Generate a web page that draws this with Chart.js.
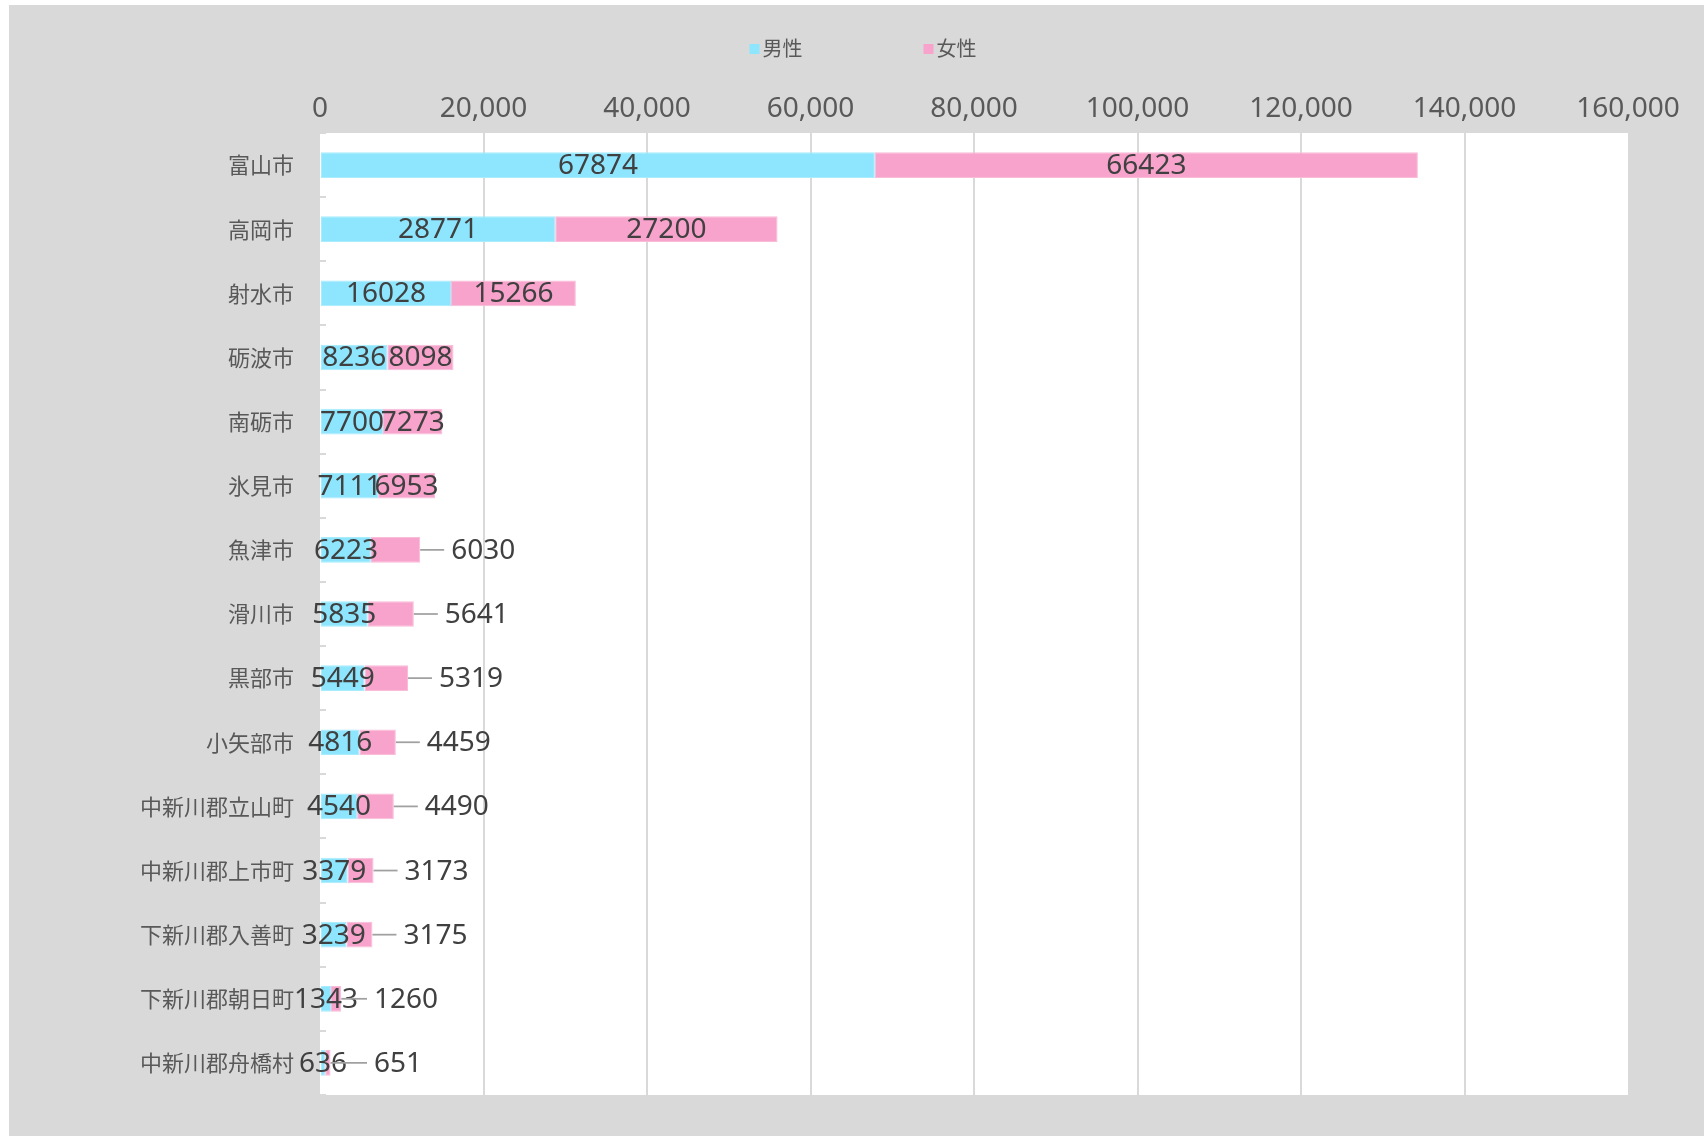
<!DOCTYPE html>
<html>
<head>
<meta charset="utf-8">
<script src="https://cdn.jsdelivr.net/npm/chart.js@4/dist/chart.umd.min.js"></script>
<style>
    html, body { margin: 0; padding: 0; background: #ffffff; }
    #wrap { position: absolute; left: 9px; top: 5px; width: 1695px; height: 1131px; background: #d9d9d9; }
</style>
</head>
<body>
<div id="wrap"><canvas id="grafico"></canvas></div>
<script>
// ---------------- Dados ----------------
const municipios = ['富山市','高岡市','射水市','砺波市','南砺市','氷見市','魚津市','滑川市','黒部市','小矢部市',
                    '中新川郡立山町','中新川郡上市町','下新川郡入善町','下新川郡朝日町','中新川郡舟橋村'];
const masculino = [67874, 28771, 16028, 8236, 7700, 7111, 6223, 5835, 5449, 4816, 4540, 3379, 3239, 1343, 636];
const feminino  = [66423, 27200, 15266, 8098, 7273, 6953, 6030, 5641, 5319, 4459, 4490, 3173, 3175, 1260, 651];
const nomesSeries = ['男性', '女性'];
const eixoMax = 160000;
const eixoPasso = 20000;

const corMasc = '#8de6fd';
const corFem = '#f7a3cc';
const fonteNum = '"Noto Sans", "DejaVu Sans", sans-serif';
const fonteJp = '"Noto Sans CJK JP", "Noto Sans", sans-serif';
const limiteDentro = 6500;   // rótulos femininos menores ficam fora da barra

// ---------------- Plugin: fundo, marcas, legenda, rótulos ----------------
const desenhoExtra = {
    id: 'desenhoExtra',
    beforeDraw(chart) {
        const {ctx, chartArea: a} = chart;
        ctx.save();
        ctx.fillStyle = '#ffffff';
        ctx.fillRect(a.left, a.top, a.right - a.left, a.bottom - a.top);
        ctx.restore();
    },
    afterDraw(chart) {
        const {ctx, chartArea: a, scales} = chart;
        ctx.save();

        // marcas do eixo das categorias
        ctx.strokeStyle = '#d9d9d9';
        ctx.lineWidth = 2;
        for (let i = 0; i <= municipios.length; i++) {
            const y = Math.round(scales.y.getPixelForValue(i - 0.5));
            ctx.beginPath();
            ctx.moveTo(a.left, y);
            ctx.lineTo(a.left + 6, y);
            ctx.stroke();
        }

        // legenda
        ctx.font = '20px ' + fonteJp;
        ctx.textBaseline = 'middle';
        ctx.textAlign = 'left';
        const cx = chart.width / 2 + 6;
        const posLeg = [cx - 113, cx + 61];
        chart.data.datasets.forEach((ds, i) => {
            ctx.fillStyle = ds.backgroundColor;
            ctx.fillRect(posLeg[i], 39, 10, 10);
            ctx.fillStyle = '#595959';
            ctx.fillText(ds.label, posLeg[i] + 13, 43);
        });

        // rótulos de dados
        ctx.font = '28px ' + fonteNum;
        ctx.textBaseline = 'middle';
        chart.data.datasets.forEach((ds, d) => {
            const meta = chart.getDatasetMeta(d);
            meta.data.forEach((el, i) => {
                const v = ds.data[i];
                const ini = Math.min(el.x, el.base), fim = Math.max(el.x, el.base);
                if (d === 1 && v < limiteDentro) {
                    const xt = Math.max(fim + 31, a.left + 54);
                    ctx.strokeStyle = '#a0a0a0';
                    ctx.lineWidth = 1.75;
                    ctx.beginPath();
                    ctx.moveTo(fim, el.y);
                    ctx.lineTo(xt - 7, el.y);
                    ctx.stroke();
                    ctx.fillStyle = '#404040';
                    ctx.textAlign = 'left';
                    ctx.fillText(String(v), xt, el.y + 1);
                } else {
                    ctx.fillStyle = '#404040';
                    ctx.textAlign = 'center';
                    ctx.fillText(String(v), (ini + fim) / 2, el.y + 1);
                }
            });
        });
        ctx.restore();
    }
};

// ---------------- Gráfico ----------------
new Chart(document.getElementById('grafico'), {
    type: 'bar',
    data: {
        labels: municipios,
        datasets: [
            { label: nomesSeries[0], data: masculino, backgroundColor: corMasc, borderColor: '#a9ecfd', borderWidth: 1, borderSkipped: false },
            { label: nomesSeries[1], data: feminino, backgroundColor: corFem, borderColor: '#f9bcd9', borderWidth: 1, borderSkipped: false }
        ]
    },
    plugins: [desenhoExtra],
    options: {
        indexAxis: 'y',
        locale: 'en-US',
        responsive: true,
        maintainAspectRatio: false,
        animation: false,
        layout: { padding: { top: 60, right: 76, bottom: 41, left: 0 } },
        datasets: { bar: { categoryPercentage: 1, barPercentage: 0.4 } },
        scales: {
            x: {
                position: 'top', stacked: true, min: 0, max: eixoMax,
                ticks: { stepSize: eixoPasso, color: '#595959', padding: 7, font: { family: fonteNum, size: 28 } },
                grid: {
                    drawTicks: false, lineWidth: 2,
                    color: c => (c.tick && (c.tick.value === 0 || c.tick.value === eixoMax)) ? 'rgba(0,0,0,0)' : '#d9d9d9'
                },
                border: { display: false },
                afterFit: s => { s.height = 68; }
            },
            y: {
                stacked: true,
                ticks: { color: '#595959', padding: 18, font: { family: fonteJp, size: 22 } },
                grid: { display: false },
                border: { display: false },
                afterFit: s => { s.width = 311; }
            }
        },
        plugins: { legend: { display: false }, tooltip: { enabled: false } }
    }
});
</script>
</body>
</html>
